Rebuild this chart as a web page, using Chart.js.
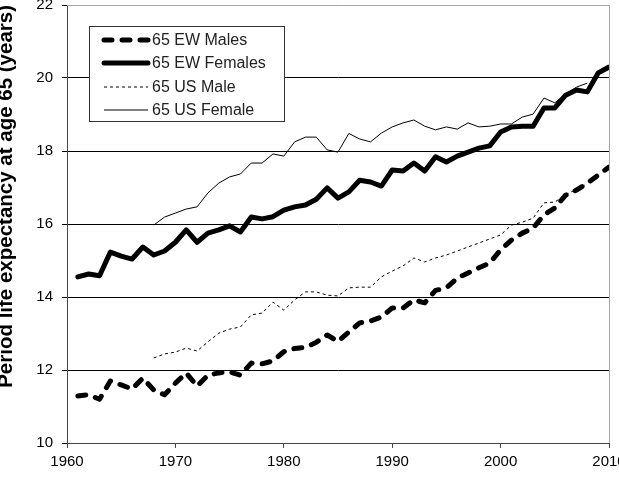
<!DOCTYPE html>
<html>
<head>
<meta charset="utf-8">
<script src="https://cdn.jsdelivr.net/npm/chart.js@4.4.1/dist/chart.umd.min.js"></script>
<style>
    body { margin: 0; background: #fff; }
    canvas { display: block; }
</style>
</head>
<body>
<canvas id="chart" width="619" height="488"></canvas>
<script>
const ewYears = [
    1961, 1962, 1963, 1964, 1965, 1966, 1967, 1968, 1969, 1970,
    1971, 1972, 1973, 1974, 1975, 1976, 1977, 1978, 1979, 1980,
    1981, 1982, 1983, 1984, 1985, 1986, 1987, 1988, 1989, 1990,
    1991, 1992, 1993, 1994, 1995, 1996, 1997, 1998, 1999, 2000,
    2001, 2002, 2003, 2004, 2005, 2006, 2007, 2008, 2009, 2010,
];
const ewMales = [
    11.29, 11.32, 11.2, 11.7, 11.59, 11.48, 11.78, 11.45, 11.32, 11.64,
    11.92, 11.56, 11.86, 11.92, 11.95, 11.86, 12.19, 12.17, 12.25, 12.5,
    12.59, 12.62, 12.76, 12.96, 12.78, 13.04, 13.29, 13.34, 13.45, 13.7,
    13.7, 13.92, 13.84, 14.18, 14.25, 14.52, 14.66, 14.8, 14.93, 15.29,
    15.56, 15.75, 15.89, 16.25, 16.44, 16.79, 16.93, 17.12, 17.34, 17.56,
];
const ewFemales = [
    14.55, 14.63, 14.58, 15.23, 15.12, 15.04, 15.37, 15.15, 15.26, 15.5,
    15.84, 15.5, 15.75, 15.84, 15.95, 15.78, 16.19, 16.14, 16.2, 16.38,
    16.47, 16.52, 16.68, 16.99, 16.71, 16.88, 17.2, 17.15, 17.04, 17.48,
    17.45, 17.67, 17.45, 17.84, 17.7, 17.86, 17.97, 18.08, 18.14, 18.52,
    18.66, 18.68, 18.68, 19.18, 19.18, 19.53, 19.67, 19.62, 20.14, 20.3,
];
const usYears = [
    1968, 1969, 1970, 1971, 1972, 1973, 1974, 1975, 1976, 1977,
    1978, 1979, 1980, 1981, 1982, 1983, 1984, 1985, 1986, 1987,
    1988, 1989, 1990, 1991, 1992, 1993, 1994, 1995, 1996, 1997,
    1998, 1999, 2000, 2001, 2002, 2003, 2004, 2005, 2006, 2007,
    2008,
];
const usMale = [
    12.33, 12.44, 12.49, 12.6, 12.52, 12.77, 13.01, 13.12, 13.18, 13.51,
    13.56, 13.86, 13.64, 13.92, 14.14, 14.14, 14.05, 14.03, 14.25, 14.27,
    14.27, 14.55, 14.71, 14.85, 15.07, 14.96, 15.07, 15.15, 15.26, 15.37,
    15.48, 15.59, 15.7, 15.97, 16.05, 16.16, 16.58, 16.6, 16.8, 16.95,
    17.1,
];
const usFemale = [
    15.97, 16.19, 16.3, 16.41, 16.47, 16.85, 17.12, 17.29, 17.37, 17.67,
    17.67, 17.92, 17.86, 18.25, 18.38, 18.38, 18.03, 17.97, 18.48, 18.33,
    18.25, 18.49, 18.66, 18.77, 18.85, 18.68, 18.58, 18.66, 18.6, 18.77,
    18.66, 18.68, 18.74, 18.74, 18.93, 19.01, 19.45, 19.32, 19.56, 19.75,
    19.86,
];
const yTicks = [10, 12, 14, 16, 18, 20, 22];
const xTicks = [1960, 1970, 1980, 1990, 2000, 2010];

const font = "'Liberation Sans', Arial, sans-serif";

function points(xs, ys) {
    return xs.map((x, i) => ({ x: x, y: ys[i] }));
}

// legend box drawn inside the plot, like the original
const boxLegend = {
    id: "boxLegend",
    afterDraw(chart) {
        const ctx = chart.ctx;
        const area = chart.chartArea;
        ctx.save();
        // right and top frame of the plot area
        ctx.strokeStyle = "#a6a6a6";
        ctx.lineWidth = 1;
        ctx.beginPath();
        ctx.moveTo(area.left, area.top + 0.5);
        ctx.lineTo(area.right + 0.5, area.top + 0.5);
        ctx.lineTo(area.right + 0.5, area.bottom);
        ctx.stroke();

        ctx.fillStyle = "#fff";
        ctx.fillRect(89.5, 26.5, 195, 95);
        ctx.strokeStyle = "#333";
        ctx.strokeRect(89.5, 26.5, 195, 95);

        const rows = [40, 63, 87, 110];
        chart.data.datasets.forEach((ds, i) => {
            const y = rows[i];
            ctx.strokeStyle = ds.borderColor;
            ctx.lineWidth = ds.borderWidth;
            ctx.lineCap = ds.borderCapStyle || "butt";
            ctx.setLineDash(ds.borderDash || []);
            ctx.beginPath();
            ctx.moveTo(104, y);
            ctx.lineTo(148, y);
            ctx.stroke();
            ctx.setLineDash([]);
            ctx.fillStyle = "#222";
            ctx.font = "16px " + font;
            ctx.textBaseline = "middle";
            ctx.textAlign = "left";
            ctx.fillText(ds.label, 152, y + 1);
        });
        ctx.restore();
    },
};

new Chart(document.querySelector("#chart"), {
    type: "line",
    data: {
        datasets: [
            {
                label: "65 EW Males",
                data: points(ewYears, ewMales),
                borderColor: "#000",
                borderWidth: 5,
                borderDash: [8, 10],
                borderCapStyle: "round",
                borderJoinStyle: "round",
            },
            {
                label: "65 EW Females",
                data: points(ewYears, ewFemales),
                borderColor: "#000",
                borderWidth: 5,
                borderCapStyle: "round",
                borderJoinStyle: "round",
            },
            {
                label: "65 US Male",
                data: points(usYears, usMale),
                borderColor: "#000",
                borderWidth: 1,
                borderDash: [3, 3],
            },
            {
                label: "65 US Female",
                data: points(usYears, usFemale),
                borderColor: "#000",
                borderWidth: 1,
            },
        ],
    },
    options: {
        responsive: false,
        animation: false,
        tension: 0,
        elements: { point: { radius: 0 } },
        layout: { padding: { top: 5, right: 10, left: 0, bottom: 0 } },
        plugins: {
            legend: { display: false },
            tooltip: { enabled: false },
        },
        scales: {
            x: {
                type: "linear",
                min: 1960,
                max: 2010,
                afterBuildTicks: (scale) => {
                    scale.ticks = xTicks.map((v) => ({ value: v }));
                },
                afterFit: (scale) => {
                    scale.height = 45;
                    scale.paddingLeft = 0;
                    scale.paddingRight = 0;
                },
                ticks: {
                    color: "#000",
                    font: { family: font, size: 15 },
                    padding: 5,
                    maxRotation: 0,
                    autoSkip: false,
                    callback: (v) => String(v),
                },
                grid: {
                    drawOnChartArea: false,
                    tickLength: 5,
                    color: "#444",
                },
                border: { color: "#444", width: 1 },
            },
            y: {
                min: 10,
                max: 22,
                afterBuildTicks: (scale) => {
                    scale.ticks = yTicks.map((v) => ({ value: v }));
                },
                afterFit: (scale) => {
                    scale.width = 67;
                    scale.paddingTop = 0;
                    scale.paddingBottom = 0;
                },
                ticks: {
                    color: "#000",
                    font: { family: font, size: 15 },
                    padding: 9,
                    callback: (v) => String(v),
                },
                grid: {
                    color: "#000",
                    tickLength: 5,
                },
                border: { color: "#444", width: 1 },
                title: {
                    display: true,
                    text: "Period life expectancy at age 65 (years)",
                    color: "#000",
                    align: "end",
                    font: { family: font, size: 20.5, weight: "bold", lineHeight: 1.2 },
                    padding: { top: -6, bottom: 0 },
                },
            },
        },
    },
    plugins: [boxLegend],
});
</script>
</body>
</html>
